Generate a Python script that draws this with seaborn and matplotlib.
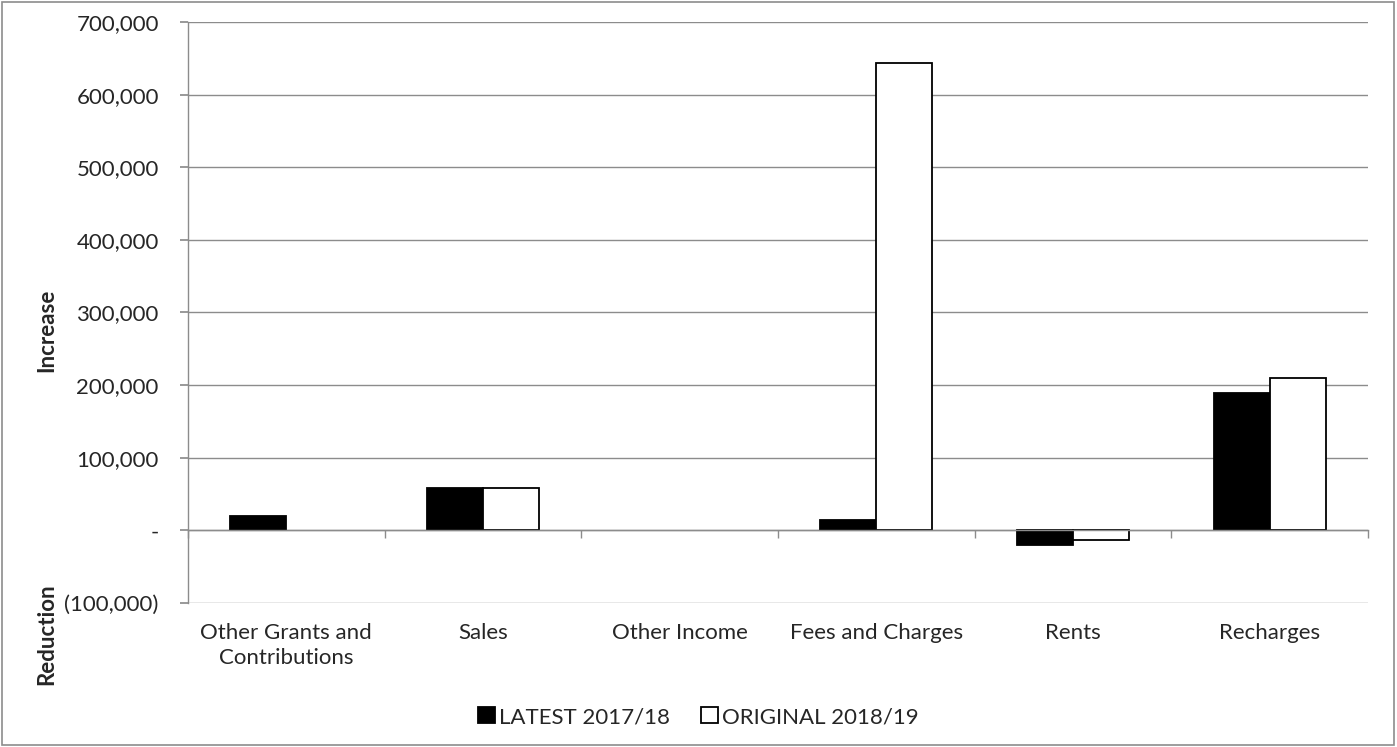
import numpy as np
import pandas as pd
import seaborn as sns
import matplotlib.pyplot as plt
from matplotlib.patches import Rectangle
from matplotlib.ticker import FuncFormatter, FixedLocator

categories = ['Other Grants and\nContributions', 'Sales', 'Other Income',
              'Fees and Charges', 'Rents', 'Recharges']
series = ['LATEST 2017/18', 'ORIGINAL 2018/19']
latest = [20000, 58000, np.nan, 14000, -20000, 189000]
original = [np.nan, 58000, np.nan, 643000, -13000, 210000]

data = pd.DataFrame({
    'category': categories * 2,
    'series': [series[0]] * len(categories) + [series[1]] * len(categories),
    'value': latest + original,
})

sns.set_theme(style='white')
plt.rcParams['font.family'] = ['Lato', 'DejaVu Sans']
grey = '#8c8c8c'
fs = 16

fig = plt.figure(figsize=(13.97, 7.47), dpi=100)
ax = fig.add_axes([188 / 1397, (747 - 603) / 747, (1368 - 188) / 1397, (603 - 22) / 747])

sns.barplot(data=data, x='category', y='value', hue='series', order=categories,
            hue_order=series, palette=['black', 'white'], edgecolor='black',
            linewidth=1.3, width=0.57, errorbar=None, ax=ax, legend=True)

ax.set_ylim(-100000, 700000)
ax.set_xlim(-0.5, len(categories) - 0.5)
ax.set_yticks(np.arange(-100000, 700001, 100000))


def fmt(v, pos):
    if abs(v) < 1:
        return '-'
    if v < 0:
        return f'({abs(v):,.0f})'
    return f'{v:,.0f}'


ax.yaxis.set_major_formatter(FuncFormatter(fmt))
ax.yaxis.grid(True, color=grey, linewidth=1)
ax.set_axisbelow(True)

for s in ['top', 'right']:
    ax.spines[s].set_visible(False)
ax.spines['left'].set_color(grey)
ax.spines['bottom'].set_color(grey)
ax.spines['bottom'].set_position(('data', 0))
ax.spines['left'].set_linewidth(1)
ax.spines['bottom'].set_linewidth(1)

ax.xaxis.set_minor_locator(FixedLocator(np.arange(-0.5, len(categories), 1)))
ax.tick_params(axis='x', which='major', length=0, pad=67, labelsize=fs)
ax.tick_params(axis='x', which='minor', length=6, color=grey, direction='out', bottom=True)
ax.tick_params(axis='y', length=6, color=grey, direction='out', left=True, labelsize=fs, pad=15)
for lbl in ax.get_xticklabels():
    lbl.set_linespacing(1.3)

ax.set_xlabel('')
ax.set_ylabel('')
fig.text(47 / 1397, 1 - 330 / 747, 'Increase', rotation=90, ha='center', va='center',
         fontsize=fs, fontweight='bold')
fig.text(47 / 1397, 1 - 634 / 747, 'Reduction', rotation=90, ha='center', va='center',
         fontsize=fs, fontweight='bold')

handles, labels = ax.get_legend_handles_labels()
ax.get_legend().remove()
fig.legend(handles, labels, loc='center', bbox_to_anchor=(0.5, 1 - 717 / 747), ncol=2,
           frameon=False, fontsize=fs, handlelength=0.75, handleheight=0.75,
           handletextpad=0.2, columnspacing=1.4)

fig.patches.append(Rectangle((2 / 1397, 2 / 747), 1 - 5 / 1397, 1 - 4 / 747,
                             transform=fig.transFigure, fill=False,
                             edgecolor=grey, linewidth=1.2))

fig.savefig('out.png', dpi=100)
